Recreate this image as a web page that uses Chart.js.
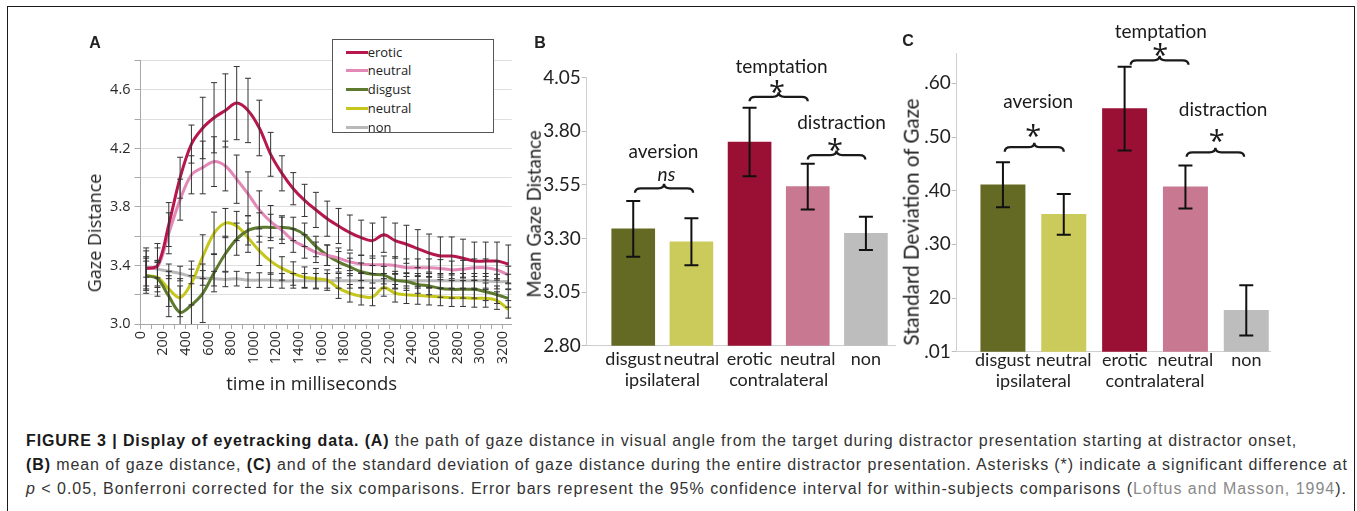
<!DOCTYPE html>
<html><head><meta charset="utf-8">
<script src="https://cdn.jsdelivr.net/npm/chart.js@4.4.1/dist/chart.umd.min.js"></script>
<style>
html,body{margin:0;padding:0;background:#fff;}
body{width:1357px;height:511px;position:relative;overflow:hidden;font-family:'Open Sans',sans-serif;color:#222;}
.abs{position:absolute;}
#frame{left:7px;top:6px;width:1348px;height:540px;border:1.5px solid #1a1a1a;box-sizing:border-box;}
.letter{font-family:'Liberation Sans',Arial,sans-serif;font-weight:bold;font-size:16px;transform:translate(-50%,-50%);line-height:1;}
.ytitle{white-space:nowrap;transform:translate(-50%,-50%) rotate(-90deg);line-height:1;}
canvas{position:absolute;}
#legendA{border:1px solid #555;box-sizing:border-box;background:#fff;}
.lgrow{position:absolute;left:0;height:18px;font-size:13px;line-height:18px;white-space:nowrap;}
.lgline{position:absolute;left:13px;top:8px;width:22px;height:3px;}
.lgtext{position:absolute;left:35px;top:0;}
.cap{position:absolute;left:26px;white-space:nowrap;font-family:'Liberation Sans',Arial,sans-serif;font-size:16px;line-height:24px;color:#333;}
.cap b{color:#1a1a1a;}
</style>
</head><body>
<div id="frame" class="abs"></div>

<canvas id="cA" width="530" height="400" style="left:0;top:0;width:530px;height:400px;"></canvas>
<canvas id="cB" width="380" height="410" style="left:520px;top:0;width:380px;height:410px;"></canvas>
<canvas id="cC" width="390" height="410" style="left:890px;top:0;width:390px;height:410px;"></canvas>

<div class="abs letter" style="left:95px;top:42.5px;">A</div>
<div class="abs letter" style="left:540px;top:42.5px;">B</div>
<div class="abs letter" style="left:908px;top:41px;">C</div>

<div class="abs ytitle" style="left:94px;top:232.5px;font-size:18px;">Gaze Distance</div>
<div class="abs" style="left:311.7px;top:383px;transform:translate(-50%,-50%);font-size:18.5px;line-height:1;white-space:nowrap;">time in milliseconds</div>
<div class="abs ytitle" style="left:534px;top:213.5px;font-size:18.5px;font-family:Lato,sans-serif;">Mean Gaze Distance</div>
<div class="abs ytitle" style="left:910.5px;top:222px;font-size:20.6px;font-family:Lato,sans-serif;">Standard Deviation of Gaze</div>

<div id="legendA" class="abs" style="left:331.7px;top:39.3px;width:162.3px;height:94px;"></div>

<div class="cap" data-w="1271" style="top:429px;"><b>FIGURE 3 | Display of eyetracking data. (A)</b> the path of gaze distance in visual angle from the target during distractor presentation starting at distractor onset,</div>
<div class="cap" data-w="1322" style="top:453px;"><b>(B)</b> mean of gaze distance, <b>(C)</b> and of the standard deviation of gaze distance during the entire distractor presentation. Asterisks (*) indicate a significant difference at</div>
<div class="cap" data-w="1321" style="top:477px;"><i>p</i> &lt; 0.05, Bonferroni corrected for the six comparisons. Error bars represent the 95% confidence interval for within-subjects comparisons (<span style="color:#8a8a8a">Loftus and Masson, 1994</span>).</div>

<script>
// ---------------- DATA: panel A (time course) ----------------
const timesMs = [50,150,250,350,450,550,650,750,850,950,1050,1150,1250,1350,1450,1550,1650,1750,1850,1950,2050,2150,2250,2350,2450,2550,2650,2750,2850,2950,3050,3150,3250];
const seriesNamesA = ['erotic','neutral','disgust','neutral','non'];
const eroticA  = [3.38,3.40,3.68,4.00,4.23,4.34,4.41,4.46,4.51,4.46,4.34,4.16,4.03,3.925,3.845,3.78,3.72,3.67,3.625,3.59,3.57,3.61,3.57,3.545,3.515,3.485,3.465,3.465,3.45,3.43,3.43,3.43,3.41];
const neutralContraA = [3.38,3.39,3.62,3.85,4.02,4.07,4.11,4.08,3.99,3.89,3.78,3.70,3.64,3.57,3.53,3.49,3.47,3.45,3.425,3.41,3.405,3.405,3.40,3.385,3.385,3.385,3.38,3.37,3.375,3.385,3.385,3.37,3.335];
const disgustA = [3.33,3.31,3.19,3.08,3.13,3.21,3.35,3.48,3.58,3.64,3.66,3.66,3.66,3.65,3.61,3.53,3.47,3.425,3.39,3.357,3.34,3.334,3.30,3.29,3.27,3.26,3.243,3.237,3.237,3.237,3.22,3.20,3.175];
const neutralIpsiA = [3.33,3.32,3.24,3.18,3.28,3.46,3.62,3.69,3.67,3.59,3.50,3.43,3.38,3.345,3.32,3.31,3.30,3.245,3.21,3.19,3.185,3.25,3.21,3.20,3.195,3.19,3.185,3.18,3.18,3.175,3.175,3.16,3.10];
const nonA = [3.39,3.375,3.36,3.345,3.325,3.315,3.31,3.305,3.31,3.30,3.30,3.30,3.295,3.295,3.295,3.295,3.295,3.295,3.295,3.295,3.295,3.295,3.295,3.295,3.295,3.295,3.295,3.295,3.295,3.295,3.295,3.29,3.29];
const eroticErrA = [0.14,0.15,0.15,0.14,0.13,0.21,0.24,0.25,0.25,0.22,0.19,0.15,0.12,0.11,0.11,0.12,0.12,0.12,0.12,0.12,0.12,0.12,0.12,0.13,0.13,0.13,0.13,0.13,0.13,0.13,0.13,0.13,0.13];
const neutralContraErrA = [0.12,0.13,0.14,0.14,0.13,0.18,0.17,0.17,0.165,0.15,0.13,0.11,0.09,0.08,0.08,0.07,0.07,0.07,0.06,0.06,0.06,0.06,0.06,0.06,0.06,0.06,0.06,0.06,0.06,0.06,0.06,0.06,0.06];
const disgustErrA = [0.12,0.12,0.14,0.18,0.20,0.20,0.13,0.12,0.11,0.10,0.10,0.09,0.08,0.08,0.08,0.07,0.07,0.07,0.06,0.06,0.06,0.06,0.06,0.06,0.06,0.06,0.06,0.06,0.06,0.06,0.06,0.06,0.06];
const neutralIpsiErrA = [0.10,0.10,0.12,0.13,0.15,0.15,0.145,0.10,0.10,0.10,0.10,0.09,0.08,0.08,0.07,0.07,0.07,0.07,0.06,0.06,0.06,0.06,0.06,0.06,0.06,0.06,0.06,0.06,0.06,0.06,0.06,0.06,0.06];
const nonErrA = [0.07,0.06,0.05,0.05,0.05,0.05,0.05,0.05,0.05,0.05,0.05,0.05,0.05,0.05,0.05,0.05,0.05,0.05,0.05,0.05,0.05,0.05,0.05,0.05,0.05,0.05,0.05,0.05,0.05,0.05,0.05,0.05,0.05];
const xTickValuesA = [0,100,200,300,400,500,600,700,800,900,1000,1100,1200,1300,1400,1500,1600,1700,1800,1900,2000,2100,2200,2300,2400,2500,2600,2700,2800,2900,3000,3100,3200];
const xTickLabelsA = ['0','','200','','400','','600','','800','','1000','','1200','','1400','','1600','','1800','','2000','','2200','','2400','','2600','','2800','','3000','','3200'];
const yTickValuesA = [3.0,3.2,3.4,3.6,3.8,4.0,4.2,4.4,4.6,4.8];
const yTickLabelsA = ['3.0','','3.4','','3.8','','4.2','','4.6',''];

// ---------------- DATA: panels B and C (bars) ----------------
const categories = ['disgust','neutral','erotic','neutral','non'];
const groupLabels = ['ipsilateral','contralateral'];
const groupOfCategory = [0,0,1,1,null];
const meanGaze   = [3.345,3.285,3.750,3.542,3.324];
const meanGazeCI = [0.130,0.110,0.160,0.107,0.078];
const sdGaze     = [0.411,0.356,0.553,0.407,0.177];
const sdGazeCI   = [0.042,0.038,0.078,0.040,0.047];
const yTickValuesB = [2.80,3.05,3.30,3.55,3.80,4.05];
const yTickLabelsB = ['2.80','3.05','3.30','3.55','3.80','4.05'];
const yTickValuesC = [0.1,0.2,0.3,0.4,0.5,0.6];
const yTickLabelsC = ['.01','20','.30','.40','.50','.60'];

// ---------------- styles ----------------
const lineColorsA = ['#b8174e','#e388b7','#5e7a2e','#c6c71c','#b9b9b9'];
const barColors = ['#646a24','#cbcb5c','#9a1034','#c97891','#bdbdbd'];

// ---------------- plugins ----------------
const errBarPlugin = {
  id:'errbars',
  afterDatasetsDraw(chart, args, o){
    const {ctx, chartArea, scales} = chart;
    const ys = scales.y;
    ctx.save();
    if (o.clip){ ctx.beginPath(); ctx.rect(chartArea.left, chartArea.top-1, chartArea.right-chartArea.left, chartArea.bottom-chartArea.top+1); ctx.clip(); }
    ctx.strokeStyle = o.color; ctx.lineWidth = o.width;
    chart.data.datasets.forEach((ds, di)=>{
      if(!ds.errors) return;
      const meta = chart.getDatasetMeta(di);
      meta.data.forEach((el,i)=>{
        const v = ds.data[i].y, e = ds.errors[i];
        const x = el.x, y1 = ys.getPixelForValue(v+e), y2 = ys.getPixelForValue(v-e);
        const c = o.cap/2;
        ctx.beginPath();
        ctx.moveTo(x,y1); ctx.lineTo(x,y2);
        ctx.moveTo(x-c,y1); ctx.lineTo(x+c,y1);
        ctx.moveTo(x-c,y2); ctx.lineTo(x+c,y2);
        ctx.stroke();
      });
    });
    ctx.restore();
  }
};
function drawBrace(ctx,x1,x2,y){
  const h=4.5, r=6, xm=(x1+x2)/2;
  ctx.beginPath();
  ctx.moveTo(x1,y+h);
  ctx.quadraticCurveTo(x1,y,x1+r,y);
  ctx.lineTo(xm-r,y);
  ctx.quadraticCurveTo(xm,y,xm,y-h);
  ctx.quadraticCurveTo(xm,y,xm+r,y);
  ctx.lineTo(x2-r,y);
  ctx.quadraticCurveTo(x2,y,x2,y+h);
  ctx.stroke();
}
const annotPlugin = {
  id:'annots',
  afterDraw(chart,args,o){
    const {ctx, scales:{x,y}} = chart;
    (o.items||[]).forEach(it=>{
      ctx.save();
      ctx.fillStyle='#1a1a1a'; ctx.strokeStyle='#1a1a1a';
      if(it.type==='text'){
        ctx.font = it.font; ctx.textAlign='center'; ctx.textBaseline='middle';
        ctx.fillText(it.text, x.getPixelForValue(it.x), y.getPixelForValue(it.y));
      } else if(it.type==='star'){
        ctx.font = it.font; ctx.textAlign='center'; ctx.textBaseline='alphabetic';
        ctx.fillText('*', x.getPixelForValue(it.x), y.getPixelForValue(it.y)+it.size*0.58);
      } else if(it.type==='brace'){
        ctx.lineWidth=2.3;
        drawBrace(ctx, x.getPixelForValue(it.x1), x.getPixelForValue(it.x2), y.getPixelForValue(it.y));
      }
      ctx.restore();
    });
  }
};
Chart.register(errBarPlugin, annotPlugin);
Chart.defaults.font.family = "'Open Sans', sans-serif";
Chart.defaults.color = '#333';

// ---------------- Panel A ----------------
const seriesA = [
  {values:eroticA, errors:eroticErrA},
  {values:neutralContraA, errors:neutralContraErrA},
  {values:disgustA, errors:disgustErrA},
  {values:neutralIpsiA, errors:neutralIpsiErrA},
  {values:nonA, errors:nonErrA}
];
new Chart(document.getElementById('cA'), {
  type:'line',
  data:{datasets: seriesA.map((s,k)=>({
    label: seriesNamesA[k],
    data: timesMs.map((t,i)=>({x:t, y:s.values[i]})),
    errors: s.errors,
    borderColor: lineColorsA[k], borderWidth:3, pointRadius:0, tension:0.35, fill:false
  }))},
  options:{
    responsive:false, animation:false, events:[],
    layout:{padding:{left:95.5, top:60.7, right:18.3, bottom:16}},
    plugins:{legend:{display:false}, tooltip:{enabled:false}, errbars:{cap:6, width:1, color:'#333', clip:true}},
    scales:{
      x:{type:'linear', min:0, max:3280,
         afterBuildTicks:s=>{s.ticks = xTickValuesA.map(v=>({value:v}));},
         afterFit:s=>{s.height=60;},
         ticks:{autoSkip:false, minRotation:90, maxRotation:90, padding:2, color:'#2a2a2a', font:{size:14.5},
                callback:(v,i)=>xTickLabelsA[i]},
         grid:{drawOnChartArea:false, tickLength:5, color:'#a8a8a8'},
         border:{color:'#a8a8a8'}},
      y:{min:3.0, max:4.8,
         afterBuildTicks:s=>{s.ticks = yTickValuesA.map(v=>({value:v}));},
         afterFit:s=>{s.width=45;},
         ticks:{padding:4, color:'#2a2a2a', font:{size:14.5}, callback:(v,i)=>yTickLabelsA[i]},
         grid:{color:'#dedede', tickLength:6, tickColor:'#a8a8a8'},
         border:{color:'#a8a8a8'}}
    }
  }
});
// legend for A built from the series
const lg = document.getElementById('legendA');
seriesNamesA.forEach((n,k)=>{
  const row = document.createElement('div');
  row.className='lgrow';
  row.style.top = (2.4 + k*18.8) + 'px';
  row.innerHTML = '<div class="lgline" style="background:'+lineColorsA[k]+'"></div><div class="lgtext">'+n+'</div>';
  lg.appendChild(row);
});

// ---------------- bar panels ----------------
function barTicks(){
  const t = categories.map((c,i)=>({value:i+1, label:[c]}));
  groupLabels.forEach((g,gi)=>{
    const mem = groupOfCategory.map((v,i)=>v===gi?i+1:null).filter(v=>v!==null);
    t.push({value:(mem[0]+mem[mem.length-1])/2, label:['',g]});
  });
  return t.sort((a,b)=>a.value-b.value);
}
const barTickList = barTicks();
function barChart(id, vals, errs, cfg){
  return new Chart(document.getElementById(id), {
    type:'bar',
    data:{datasets:[{data: vals.map((v,i)=>({x:i+1, y:v})), errors:errs, backgroundColor:barColors, borderWidth:0,
                     barThickness:cfg.barW}]},
    options:{
      responsive:false, animation:false, events:[],
      layout:{padding:cfg.padding},
      plugins:{legend:{display:false}, tooltip:{enabled:false}, errbars:{cap:14, width:2, color:'#111', clip:false},
               annots:{items:cfg.annots}},
      scales:{
        x:{type:'linear', min:cfg.xmin, max:cfg.xmax, offset:false,
           afterBuildTicks:s=>{s.ticks = barTickList.map(t=>({value:t.value}));},
           afterFit:s=>{s.height=50;},
           ticks:{autoSkip:false, maxRotation:0, minRotation:0, padding:cfg.labelPad, color:'#222',
                  font:{family:'Lato, sans-serif', size:18, lineHeight:1.17},
                  callback:(v,i)=>barTickList[i].label},
           grid:{display:false, drawTicks:false},
           border:{display:true, color:'#cfcfcf'}},
        y:{min:cfg.ymin, max:cfg.ymax,
           afterBuildTicks:s=>{s.ticks = cfg.yticks.map(v=>({value:v}));},
           afterFit:s=>{s.width=45;},
           ticks:{padding:1, color:'#222', font:{family:'Lato, sans-serif', size:19}, callback:(v,i)=>cfg.ylabels[i]},
           grid:{drawOnChartArea:false, tickLength:5, color:'#bdbdbd'},
           border:{display:true, color:'#cfcfcf'}}
      }
    }
  });
}
const annFont = "19px Lato, sans-serif";
const starFont = "29px 'Open Sans', sans-serif";
barChart('cB', meanGaze, meanGazeCI, {
  padding:{left:21.7, top:77.7, right:5, bottom:14.3},
  xmin:0.2, xmax:5.5, ymin:2.80, ymax:4.05, barW:43, labelPad:3,
  yticks:yTickValuesB, ylabels:yTickLabelsB,
  annots:[
    {type:'text', text:'aversion', x:1.52, y:3.705, font:annFont},
    {type:'text', text:'ns', x:1.57, y:3.598, font:"italic 19px Lato, sans-serif"},
    {type:'brace', x1:1.03, x2:2.03, y:3.534},
    {type:'text', text:'temptation', x:3.55, y:4.101, font:annFont},
    {type:'star', x:3.47, y:4.016, size:29, font:starFont},
    {type:'brace', x1:3.0, x2:4.0, y:3.961},
    {type:'text', text:'distraction', x:4.58, y:3.837, font:annFont},
    {type:'star', x:4.47, y:3.744, size:29, font:starFont},
    {type:'brace', x1:4.0, x2:4.99, y:3.689}
  ]
});
barChart('cC', sdGaze, sdGazeCI, {
  padding:{left:21.7, top:53.3, right:10, bottom:8.3},
  xmin:0.24, xmax:5.39, ymin:0.1, ymax:0.656, barW:44.3, labelPad:-2,
  yticks:yTickValuesC, ylabels:yTickLabelsC,
  annots:[
    {type:'text', text:'aversion', x:1.58, y:0.565, font:annFont},
    {type:'star', x:1.50, y:0.515, size:29, font:starFont},
    {type:'brace', x1:1.03, x2:2.0, y:0.481},
    {type:'text', text:'temptation', x:3.595, y:0.695, font:annFont},
    {type:'star', x:3.584, y:0.665, size:29, font:starFont},
    {type:'brace', x1:3.10, x2:4.05, y:0.643},
    {type:'text', text:'distraction', x:4.62, y:0.551, font:annFont},
    {type:'star', x:4.516, y:0.506, size:29, font:starFont},
    {type:'brace', x1:4.02, x2:4.965, y:0.4715}
  ]
});

// fit caption lines to their measured widths
document.querySelectorAll('.cap').forEach(el=>{
  const target = +el.dataset.w;
  const w = el.getBoundingClientRect().width;
  const n = el.textContent.length;
  el.style.letterSpacing = ((target - w)/n).toFixed(3) + 'px';
});
</script>
</body></html>
